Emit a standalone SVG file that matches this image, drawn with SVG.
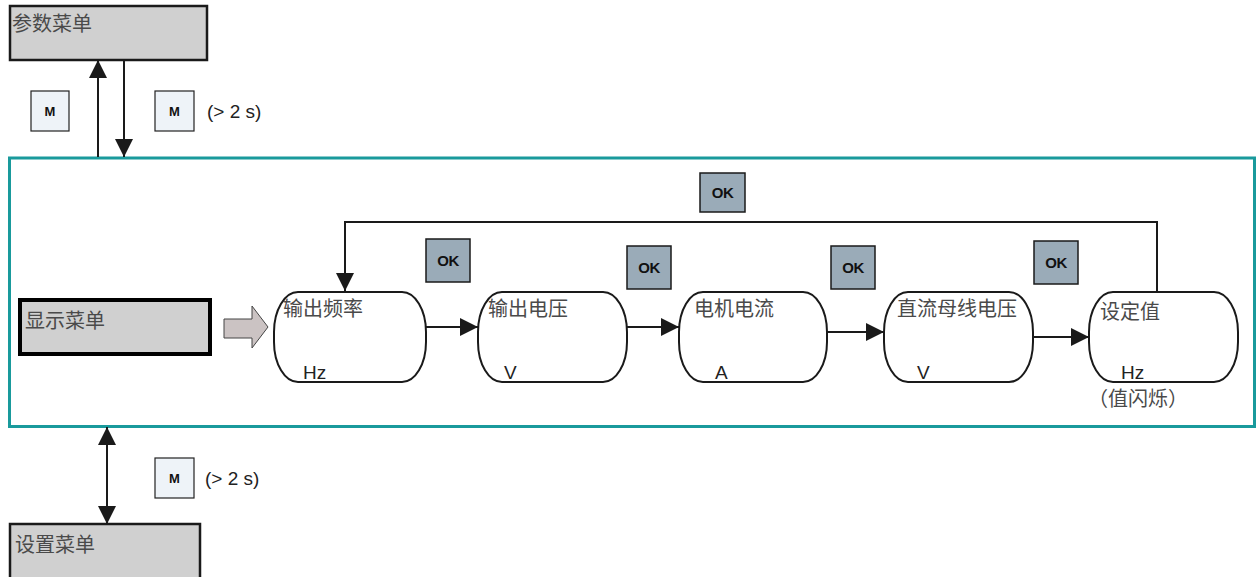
<svg xmlns="http://www.w3.org/2000/svg" width="1260" height="577" viewBox="0 0 1260 577">
<defs>
<marker id="ahl" markerWidth="18" markerHeight="18" viewBox="0 0 10 10" refX="10" refY="5" orient="auto-start-reverse" markerUnits="userSpaceOnUse">
<path d="M0,0 L10,5 L0,10 z" fill="#1a1a1a"/>
</marker>
</defs>
<style>
.menu{fill:#d0d0d0;stroke:#1a1a1a;stroke-width:2.5}
.cn{font-family:"Liberation Sans","Noto Sans CJK SC",sans-serif;font-size:20px;fill:#4a4a4a}
.unit{font-family:"Liberation Sans","Noto Sans CJK SC",sans-serif;font-size:19px;fill:#222}
.node{fill:#fff;stroke:#1a1a1a;stroke-width:2}
.mkey{fill:#eef3f8;stroke:#222;stroke-width:1.2}
.mtxt{font-family:"Liberation Sans",sans-serif;font-size:13px;font-weight:bold;fill:#111;text-anchor:middle}
.okkey{fill:#9aabb8;stroke:#1a1a1a;stroke-width:1.5}
.oktxt{font-family:"Liberation Sans",sans-serif;font-size:15px;font-weight:bold;fill:#111;text-anchor:middle;letter-spacing:-0.5px}
.lbl{font-family:"Liberation Sans",sans-serif;font-size:19px;fill:#222}
.conn{stroke:#1a1a1a;stroke-width:2;fill:none}
</style>
<rect x="0" y="0" width="1260" height="577" fill="#fff"/>
<rect id="frame" x="9.5" y="158" width="1245" height="268.5" fill="none" stroke="#199a9c" stroke-width="3"/>
<g id="param-menu"><rect class="menu" x="10" y="6" width="197" height="54"/><text class="cn" x="12" y="31">参数菜单</text></g>
<g id="display-menu"><rect x="20" y="300" width="190" height="54" fill="#d0d0d0" stroke="#000" stroke-width="4"/><text class="cn" x="25" y="328">显示菜单</text></g>
<g id="setup-menu"><rect class="menu" x="10" y="524" width="190" height="60"/><text class="cn" x="15" y="552">设置菜单</text></g>
<g id="keys">
<g id="m1"><rect class="mkey" x="31" y="91" width="38" height="40"/><text class="mtxt" x="50" y="116">M</text></g>
<g id="m2"><rect class="mkey" x="155" y="91" width="39" height="40"/><text class="mtxt" x="174.5" y="116">M</text></g>
<text class="lbl" x="207" y="118">(&gt; 2 s)</text>
<g id="m3"><rect class="mkey" x="155" y="458" width="39" height="40"/><text class="mtxt" x="174.5" y="483">M</text></g>
<text class="lbl" x="205" y="485">(&gt; 2 s)</text>
<g id="ok0"><rect class="okkey" x="700" y="173" width="45" height="39"/><text class="oktxt" x="722.5" y="198">OK</text></g>
<g id="ok1"><rect class="okkey" x="426" y="239" width="44" height="43"/><text class="oktxt" x="448" y="266">OK</text></g>
<g id="ok2"><rect class="okkey" x="627" y="246" width="44" height="43"/><text class="oktxt" x="649" y="273">OK</text></g>
<g id="ok3"><rect class="okkey" x="831" y="246" width="44" height="43"/><text class="oktxt" x="853" y="273">OK</text></g>
<g id="ok4"><rect class="okkey" x="1034" y="241" width="44" height="43"/><text class="oktxt" x="1056" y="268">OK</text></g>
</g>
<g id="n1"><rect class="node" x="274" y="292" width="152" height="90" rx="24" ry="40"/><text class="cn" x="283" y="316">输出频率</text><text class="unit" x="303" y="379">Hz</text></g>
<g id="n2"><rect class="node" x="478" y="292" width="149" height="90" rx="24" ry="40"/><text class="cn" x="488" y="316">输出电压</text><text class="unit" x="504" y="379">V</text></g>
<g id="n3"><rect class="node" x="679" y="292" width="148" height="90" rx="24" ry="40"/><text class="cn" x="694" y="316">电机电流</text><text class="unit" x="715" y="379">A</text></g>
<g id="n4"><rect class="node" x="884" y="292" width="149" height="90" rx="24" ry="40"/><text class="cn" x="897" y="316">直流母线电压</text><text class="unit" x="917" y="379">V</text></g>
<g id="n5"><rect class="node" x="1089" y="292" width="149" height="90" rx="24" ry="40"/><text class="cn" x="1100" y="319">设定值</text><text class="unit" x="1121" y="379">Hz</text><text class="cn" x="1088" y="406">（值闪烁）</text></g>
<g id="connectors">
<path d="M224,319 H252 V306 L268,327 L252,348 V338 H224 Z" fill="#cbc3c3" stroke="#444" stroke-width="1"/>
<line class="conn" x1="98" y1="157" x2="98" y2="60" marker-end="url(#ahl)"/>
<line class="conn" x1="124" y1="60" x2="124" y2="157" marker-end="url(#ahl)"/>
<line class="conn" x1="107" y1="427" x2="107" y2="524" marker-start="url(#ahl)" marker-end="url(#ahl)"/>
<line class="conn" x1="426" y1="327" x2="478" y2="327" marker-end="url(#ahl)"/>
<line class="conn" x1="627" y1="327" x2="679" y2="327" marker-end="url(#ahl)"/>
<line class="conn" x1="827" y1="332" x2="884" y2="332" marker-end="url(#ahl)"/>
<line class="conn" x1="1033" y1="337" x2="1089" y2="337" marker-end="url(#ahl)"/>
<path class="conn" d="M1157,292 V222 H345 V291" marker-end="url(#ahl)"/>
</g>
</svg>
